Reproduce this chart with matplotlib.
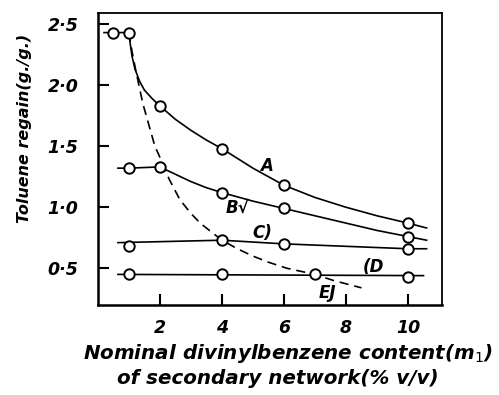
import numpy as np
import matplotlib.pyplot as plt
from matplotlib.ticker import FixedLocator, FixedFormatter

# -----------------------------
# DATA
# -----------------------------
# curve A (upper solid curve), line drawn through these points
a_line_x = [0.2, 0.5, 1.0, 1.05, 1.1, 1.2, 1.35, 1.5, 1.75, 2.0, 2.5, 3.0, 3.5, 4.0,
            5.0, 6.0, 7.0, 8.0, 9.0, 10.0, 10.6]
a_line_y = [2.43, 2.43, 2.43, 2.33, 2.24, 2.13, 2.03, 1.96, 1.89, 1.83, 1.72, 1.63, 1.55, 1.48,
            1.32, 1.18, 1.08, 1.0, 0.93, 0.87, 0.83]
a_pts_x = [0.5, 1.0, 2.0, 4.0, 6.0, 10.0]
a_pts_y = [2.43, 2.43, 1.83, 1.48, 1.18, 0.87]

# curve B
b_line_x = [0.65, 1.0, 2.0, 2.5, 3.0, 3.5, 4.0, 5.0, 6.0, 7.0, 8.0, 9.0, 10.0, 10.6]
b_line_y = [1.32, 1.32, 1.33, 1.27, 1.21, 1.16, 1.12, 1.05, 0.99, 0.93, 0.87, 0.81, 0.76, 0.73]
b_pts_x = [1.0, 2.0, 4.0, 6.0, 10.0]
b_pts_y = [1.32, 1.33, 1.12, 0.99, 0.76]

# curve C
c_line_x = [0.65, 4.0, 6.0, 10.0, 10.6]
c_line_y = [0.71, 0.73, 0.70, 0.66, 0.66]
c_pts_x = [1.0, 4.0, 6.0, 10.0]
c_pts_y = [0.68, 0.73, 0.70, 0.66]

# curve D
d_line_x = [0.65, 10.5]
d_line_y = [0.45, 0.44]
d_pts_x = [1.0, 4.0, 7.0, 10.0]
d_pts_y = [0.45, 0.45, 0.45, 0.43]

# curve E (dashed)
e_line_x = [1.0, 1.1, 1.2, 1.45, 1.84, 2.0, 2.3, 2.65, 3.0, 3.3, 4.0, 4.5, 5.0, 5.5,
            6.1, 7.0, 7.6, 8.5]
e_line_y = [2.43, 2.28, 2.15, 1.85, 1.5, 1.41, 1.23, 1.06, 0.95, 0.87, 0.73, 0.66, 0.6, 0.55,
            0.5, 0.45, 0.40, 0.34]

x_ticks = [2, 4, 6, 8, 10]
x_ticklabels = ["2", "4", "6", "8", "10"]
y_ticks = [0.5, 1.0, 1.5, 2.0, 2.5]
y_ticklabels = ["0·5", "1·0", "1·5", "2·0", "2·5"]

# -----------------------------
# PLOT
# -----------------------------
fig = plt.figure(figsize=(4.99, 3.95), dpi=100)
ax = fig.add_axes([0.196, 0.228, 0.69, 0.739])

lw = 1.2
ax.plot(a_line_x, a_line_y, color="black", lw=lw)
ax.plot(b_line_x, b_line_y, color="black", lw=lw)
ax.plot(c_line_x, c_line_y, color="black", lw=lw)
ax.plot(d_line_x, d_line_y, color="black", lw=lw)
ax.plot(e_line_x, e_line_y, color="black", lw=lw, ls=(0, (5.5, 3.5)))

for px, py in [(a_pts_x, a_pts_y), (b_pts_x, b_pts_y), (c_pts_x, c_pts_y), (d_pts_x, d_pts_y)]:
    ax.plot(px, py, ls="none", marker="o", ms=7.5, mfc="white", mec="black", mew=1.4, zorder=3)

lab = dict(fontsize=12, style="italic", fontweight="bold", ha="center", va="center")
ax.text(5.45, 1.34, "A", **lab)
ax.text(4.5, 1.0, "B√", **lab)
ax.text(5.3, 0.79, "C)", **lab)
ax.text(8.9, 0.51, "(D", **lab)
ax.text(7.4, 0.30, "EJ", **lab)

ax.set_xlim(0, 11.1)
ax.set_ylim(0.2, 2.59)

ax.xaxis.set_major_locator(FixedLocator(x_ticks))
ax.xaxis.set_major_formatter(FixedFormatter(x_ticklabels))
ax.yaxis.set_major_locator(FixedLocator(y_ticks))
ax.yaxis.set_major_formatter(FixedFormatter(y_ticklabels))
ax.tick_params(direction="in", length=8, width=1.5, labelsize=12.5,
               top=False, right=False)
ax.tick_params(axis="x", pad=10)
ax.tick_params(axis="y", pad=14)
for t in ax.get_xticklabels() + ax.get_yticklabels():
    t.set_fontstyle("italic")
    t.set_fontweight("bold")

for side in ["left", "bottom"]:
    ax.spines[side].set_linewidth(1.8)
for side in ["top", "right"]:
    ax.spines[side].set_linewidth(1.3)

fig.text(0.05, 0.676, "Toluene regain(g./g.)", rotation=90, fontsize=11.5,
         style="italic", fontweight="bold", ha="center", va="center")
fig.text(0.578, 0.104, "Nominal divinylbenzene content(m$_{\\mathit{1}}$)",
         fontsize=14.3, style="italic", fontweight="bold", ha="center", va="center")
fig.text(0.557, 0.043, "of secondary network(% v/v)",
         fontsize=14.3, style="italic", fontweight="bold", ha="center", va="center")

plt.savefig("out.png", dpi=100)
